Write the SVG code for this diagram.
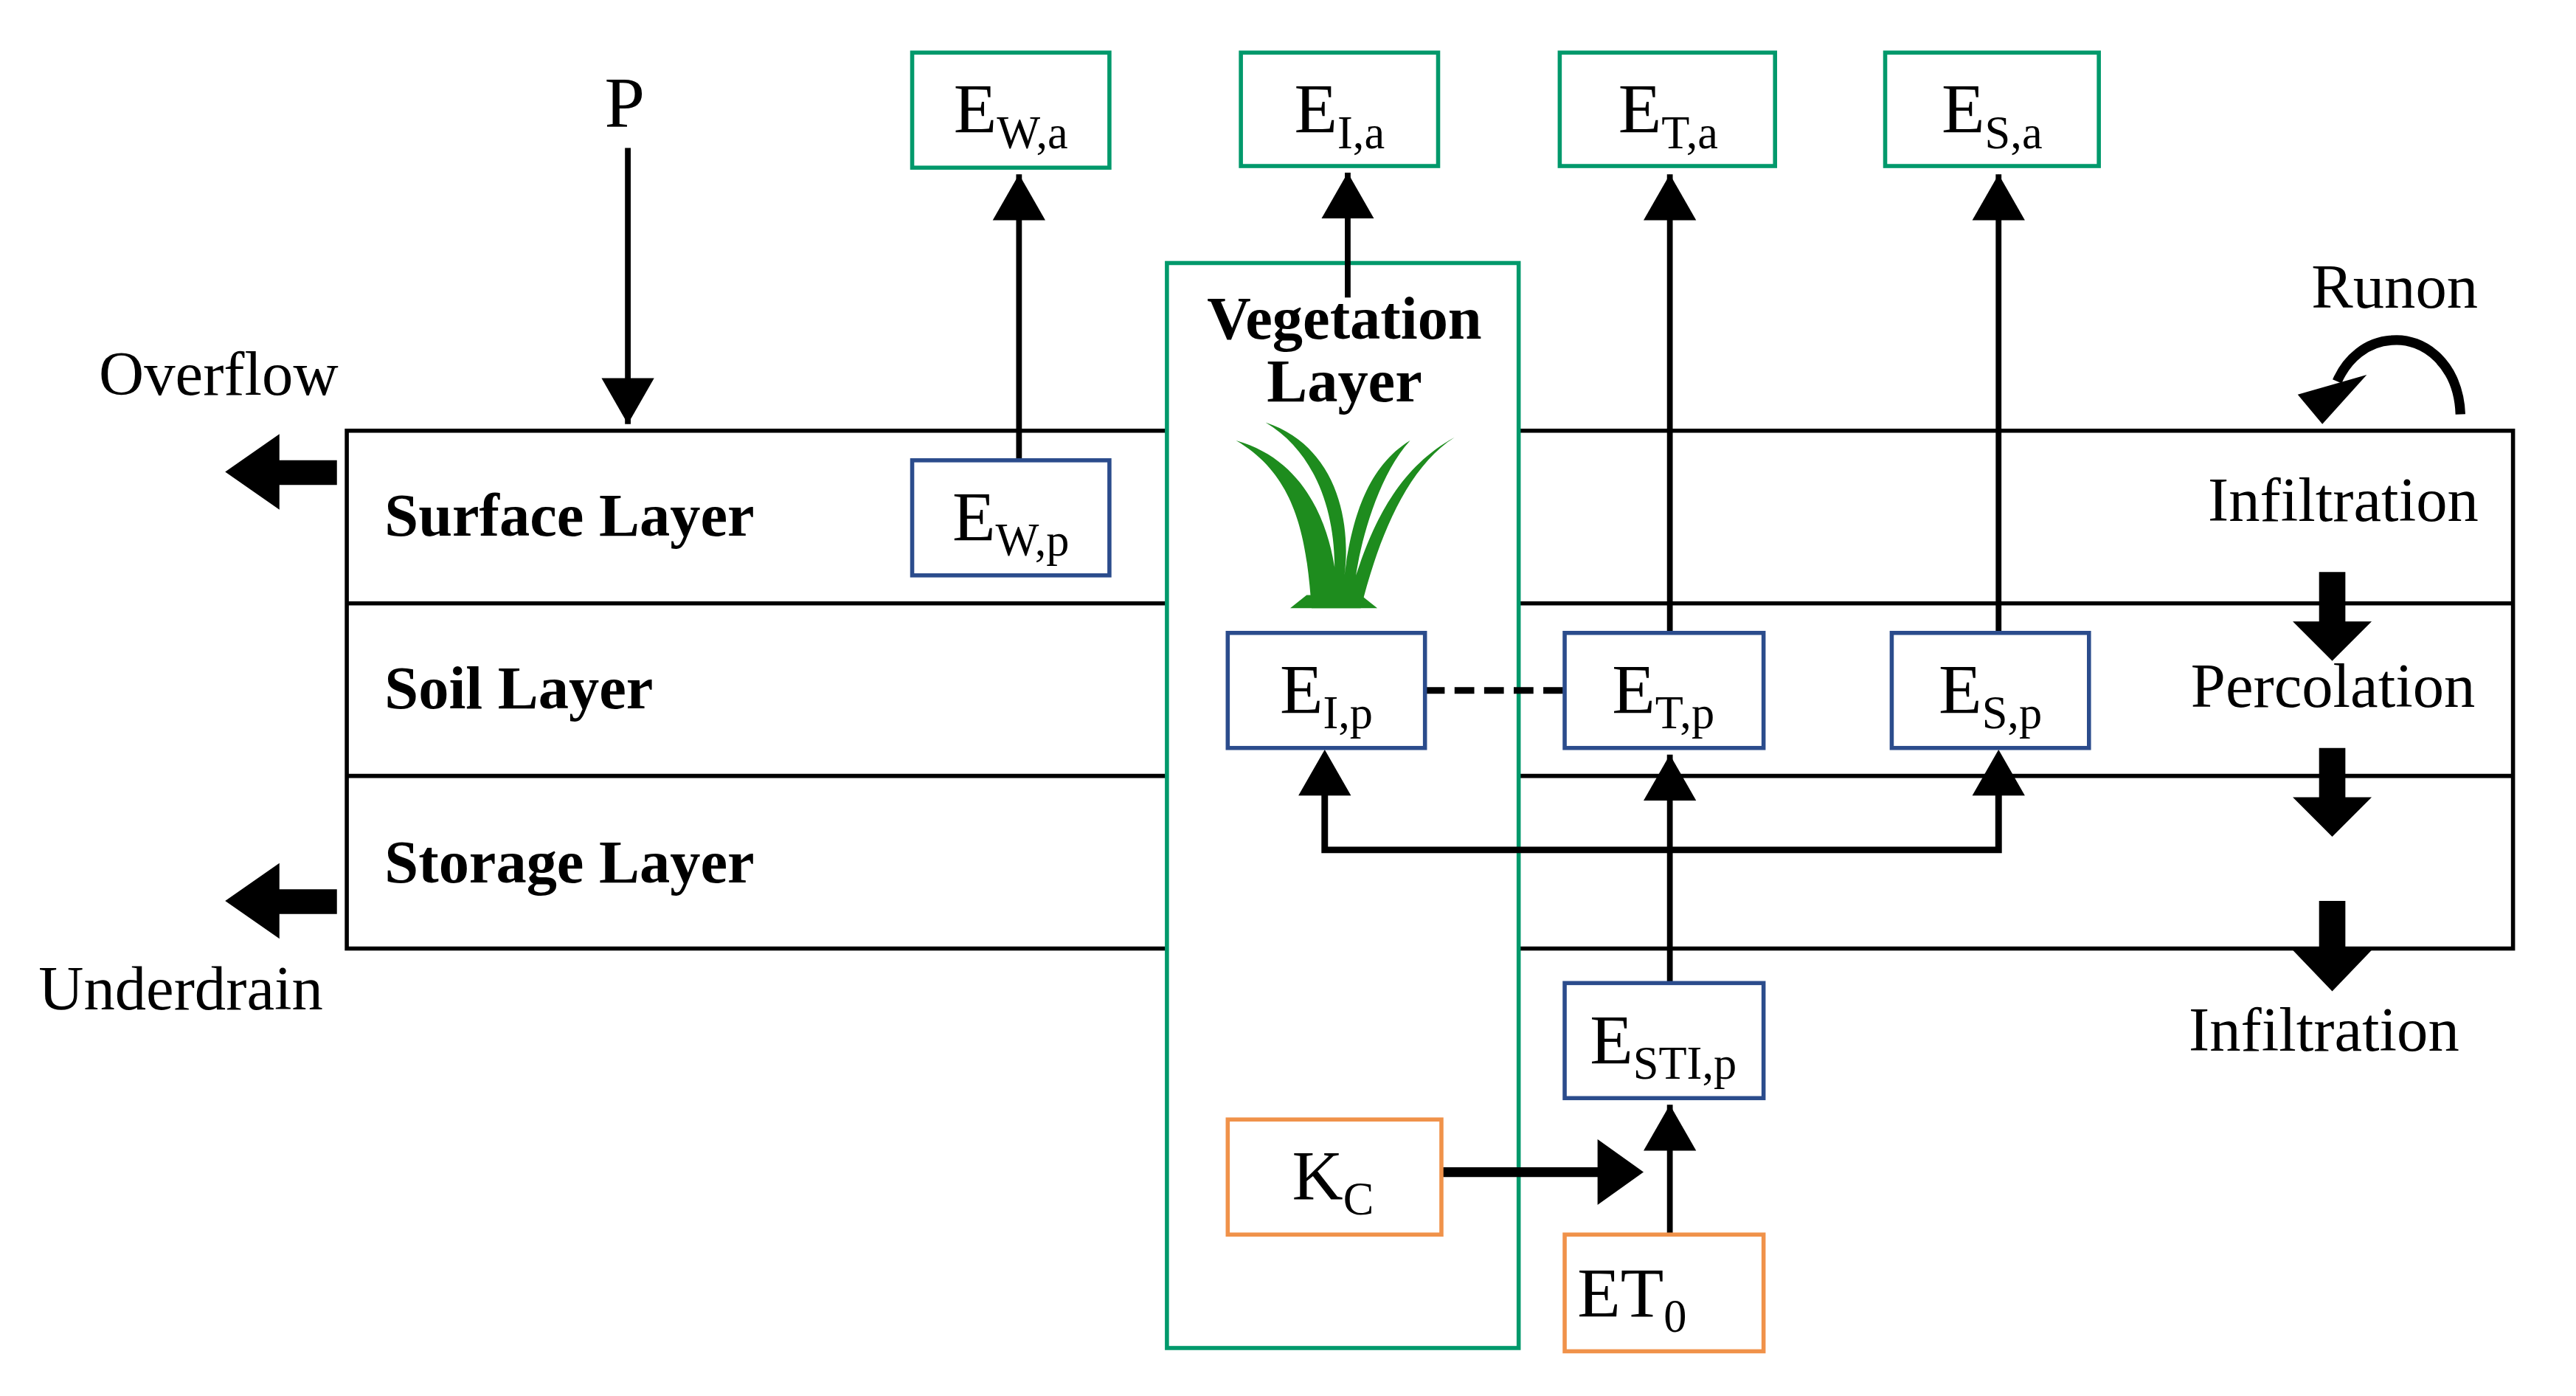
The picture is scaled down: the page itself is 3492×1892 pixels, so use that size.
<svg xmlns="http://www.w3.org/2000/svg" width="3492" height="1892" viewBox="0 0 3492 1892">
<style>
text{font-family:"Liberation Serif",serif;fill:#000}
.lbl{font-size:37px;font-weight:bold}
.t{font-size:38px}
.e{font-size:43px}
.s{font-size:28px}
.gb{fill:#fff;stroke:#00996B;stroke-width:2.5}
.bb{fill:#fff;stroke:#2B4C8C;stroke-width:2.5}
.ob{fill:#fff;stroke:#F0924A;stroke-width:2.5}
.ln{stroke:#000;stroke-width:3.5;fill:none}
</style>
<defs>
<marker id="ah" markerUnits="userSpaceOnUse" markerWidth="40" markerHeight="40" viewBox="0 0 40 40" refX="28" refY="20" orient="auto">
<path d="M0,4 L28,20 L0,36 Z" fill="#000"/>
</marker>
</defs>
<rect width="3492" height="1892" fill="#fff"/>
<g transform="scale(2.228)">
<g id="layers">
<rect x="211" y="262" width="1318" height="315" fill="#fff" stroke="#000" stroke-width="2.5"/>
<line x1="211" y1="367" x2="1529" y2="367" stroke="#000" stroke-width="2.5"/>
<line x1="211" y1="472" x2="1529" y2="472" stroke="#000" stroke-width="2.5"/>
<text class="lbl" x="234" y="326">Surface Layer</text>
<text class="lbl" x="234" y="431">Soil Layer</text>
<text class="lbl" x="234" y="537">Storage Layer</text>
</g>
<g id="veg">
<rect class="gb" x="710" y="160" width="214" height="660"/>
<text class="lbl" x="818" y="206" text-anchor="middle" font-size="32">Vegetation</text>
<text class="lbl" x="818" y="244" text-anchor="middle" font-size="32">Layer</text>
<g fill="#1E8C1E">
<path d="M798,370 C795,330 790,290 752,268 C795,280 808,320 812,345 C812,310 800,275 770,257 C815,272 822,320 818,350 C822,320 830,285 858,268 C838,290 828,330 825,350 C835,320 850,285 885,266 C855,285 838,330 828,370 Z"/>
<path d="M785,370 L838,370 L828,362 L795,362 Z"/>
</g>
</g>
<g id="connectors">
<line class="ln" x1="382" y1="90" x2="382" y2="258" marker-end="url(#ah)"/>
<line class="ln" x1="620" y1="280" x2="620" y2="106" marker-end="url(#ah)"/>
<line class="ln" x1="820" y1="181" x2="820" y2="105" marker-end="url(#ah)"/>
<line class="ln" x1="1016" y1="385" x2="1016" y2="106" marker-end="url(#ah)"/>
<line class="ln" x1="1216" y1="385" x2="1216" y2="106" marker-end="url(#ah)"/>
<line x1="867" y1="420" x2="952" y2="420" stroke="#000" stroke-width="4" stroke-dasharray="12,6"/>
<polyline fill="none" stroke="#000" stroke-width="4" points="806,480 806,517 1216,517 1216,480"/>
<path d="M790,484 L806,456 L822,484 Z M1200,484 L1216,456 L1232,484 Z"/>
<line class="ln" x1="1016" y1="598" x2="1016" y2="459" marker-end="url(#ah)"/>
<line class="ln" x1="1016" y1="751" x2="1016" y2="672" marker-end="url(#ah)"/>
<line x1="877" y1="713" x2="975" y2="713" stroke="#000" stroke-width="6"/>
<path d="M972,693 L1000,713 L972,733 Z"/>
<path d="M170,280 L205,280 L205,295 L170,295 L170,310 L137,287 L170,264 Z"/>
<path d="M170,541 L205,541 L205,556 L170,556 L170,571 L137,548 L170,525 Z"/>
<path d="M1411,348 L1427,348 L1427,378 L1443,378 L1419,402 L1395,378 L1411,378 Z"/>
<path d="M1411,455 L1427,455 L1427,485 L1443,485 L1419,509 L1395,485 L1411,485 Z"/>
<path d="M1411,548 L1427,548 L1427,578 L1443,578 L1419,603 L1395,578 L1411,578 Z"/>
<path d="M1497,252 C1496,222 1475,205 1455,207 C1440,208 1428,218 1422,232" fill="none" stroke="#000" stroke-width="6"/>
<path d="M1398,240 L1440,228 L1413,258 Z"/>
</g>
<g id="texts">
<text x="380" y="77" text-anchor="middle" font-size="44">P</text>
<text class="t" x="133" y="240" text-anchor="middle">Overflow</text>
<text class="t" x="110" y="614" text-anchor="middle">Underdrain</text>
<text class="t" x="1457" y="187" text-anchor="middle">Runon</text>
<text class="t" x="1508" y="317" text-anchor="end">Infiltration</text>
<text class="t" x="1506" y="430" text-anchor="end">Percolation</text>
<text class="t" x="1414" y="639" text-anchor="middle">Infiltration</text>
</g>
<g id="ewa"><rect class="gb" x="555" y="32" width="120" height="70"/><text class="e" x="615" y="81" text-anchor="middle">E<tspan class="s" dy="9">W,a</tspan></text></g>
<g id="eia"><rect class="gb" x="755" y="32" width="120" height="69"/><text class="e" x="815" y="81" text-anchor="middle">E<tspan class="s" dy="9">I,a</tspan></text></g>
<g id="eta"><rect class="gb" x="949" y="32" width="131" height="69"/><text class="e" x="1015" y="81" text-anchor="middle">E<tspan class="s" dy="9">T,a</tspan></text></g>
<g id="esa"><rect class="gb" x="1147" y="32" width="130" height="69"/><text class="e" x="1212" y="81" text-anchor="middle">E<tspan class="s" dy="9">S,a</tspan></text></g>
<g id="ewp"><rect class="bb" x="555" y="280" width="120" height="70"/><text class="e" x="615" y="329" text-anchor="middle">E<tspan class="s" dy="9">W,p</tspan></text></g>
<g id="eip"><rect class="bb" x="747" y="385" width="120" height="70"/><text class="e" x="807" y="434" text-anchor="middle">E<tspan class="s" dy="9">I,p</tspan></text></g>
<g id="etp"><rect class="bb" x="952" y="385" width="121" height="70"/><text class="e" x="1012" y="434" text-anchor="middle">E<tspan class="s" dy="9">T,p</tspan></text></g>
<g id="esp"><rect class="bb" x="1151" y="385" width="120" height="70"/><text class="e" x="1211" y="434" text-anchor="middle">E<tspan class="s" dy="9">S,p</tspan></text></g>
<g id="estip"><rect class="bb" x="952" y="598" width="121" height="70"/><text class="e" x="1012" y="647" text-anchor="middle">E<tspan class="s" dy="9">STI,p</tspan></text></g>
<g id="kc"><rect class="ob" x="747" y="681" width="130" height="70"/><text class="e" x="811" y="730" text-anchor="middle">K<tspan class="s" dy="9">C</tspan></text></g>
<g id="et0"><rect class="ob" x="952" y="751" width="121" height="71"/><text class="e" x="993" y="801" text-anchor="middle">ET<tspan class="s" dy="9">0</tspan></text></g>
</g>
</svg>
